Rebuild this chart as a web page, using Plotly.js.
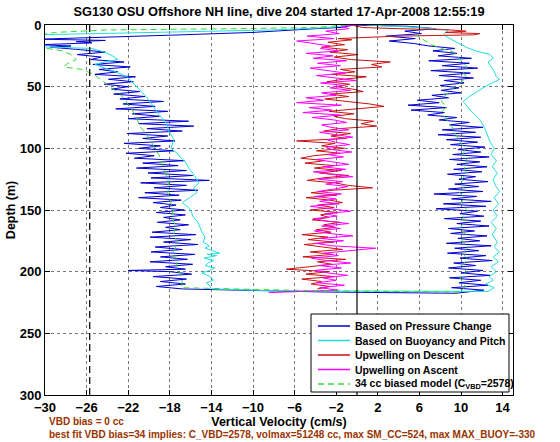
<!DOCTYPE html>
<html>
<head>
<meta charset="utf-8">
<script src="https://cdn.plot.ly/plotly-3.0.1.min.js"></script>
<style>html,body{margin:0;padding:0;background:#fff}#chart{width:560px;height:442px}</style>
</head>
<body>
<div id="chart"></div>
<script>
// ---------- data ----------
const titleText = "SG130 OSU Offshore NH line, dive 204 started 17-Apr-2008 12:55:19";
const xTicks = [-30,-26,-22,-18,-14,-10,-6,-2,2,6,10,14];
const yTicks = [0,50,100,150,200,250,300];
const seriesNames = ["Based on Pressure Change","Based on Buoyancy and Pitch","Upwelling on Descent","Upwelling on Ascent","34 cc biased model (C<sub>VBD</sub>=2578)"];
const biasLineX = -25.7;
const zeroLineX = 0;
const refDepth = [0, 300];

// Based on Pressure Change: descent
const pressDownDepth = [0,2,3,4.5,6,8,10,11.5,12.5,13.5,14.5,16,17,18,
20,22,24,26,28,30,32,34,36,38,40,42,44,46,48,50,52,54,56,58,60,62,64,66,68,70,72,74,76,78,80,82,84,86,88,90,92,94,96,98,100,
102,104,106,108,110,112,114,116,118,120,122,124,126,128,130,132,134,136,138,140,142,144,146,148,150,152,154,156,158,160,162,164,166,168,170,
172,174,176,178,180,182,184,186,188,190,192,194,196,198,199,200,202,204,206,208,210,212,214,215.5,216.5];
const pressDownVel = [-0.3,-1.5,-4,-7.5,-10,-17,-24,-30.5,-24.2,-27,-25.5,-30.5,-27.5,-29.5,
-26.6,-24.2,-26.9,-24.6,-25.6,-22.4,-25.4,-21.8,-24.8,-23,-25.2,-21.3,-23.9,-21.5,-24.3,-22,-23.6,-20.9,-23.4,-20.4,-22.8,-18.6,-22.5,-19.4,-23.2,-18.2,-21.6,-19,-22,-16.2,-21,-15.7,-20.2,-16.8,-22.1,-18.2,-20.6,-17.5,-22.4,-18.9,-21,
-17.6,-22.2,-19.5,-21.4,-16.6,-20.6,-17.2,-21.2,-16.4,-20.1,-15.8,-19.8,-14.2,-20.8,-16.4,-19.5,-15.3,-20.4,-17.1,-21,-16.9,-19.6,-17.4,-18.9,-16.6,-19.3,-16.5,-18.6,-17,-19.2,-16.2,-18.4,-17,-19.7,-15.5,
-19.9,-16,-18.6,-15.3,-19.4,-16.8,-19.8,-15.6,-18.9,-16.3,-19.9,-15.8,-18.4,-16.5,-22,-18,-15.9,-19.6,-16.4,-18.9,-16.5,-19.3,-16.8,-10,-3];
// Based on Pressure Change: ascent
const pressUpDepth = [217.5,215,213,211,209,207,205,203,201,199,197,195,193,191,189,187,185,183,181,179,177,175,173,171,169,167,165,163,161,159,157,155,153,151,149,147,145,143,141,139,137,135,133,131,129,127,125,123,121,119,117,115,113,111,109,107,105,103,101,99,97,95,93,91,89,87,85,83,81,79,77,75,73,71,69,67,65,63,61,59,57,55,53,51,49,47,45,43,41,39,37,35,33,31,29,27,25,23,21,19,17,15,13,11,9,7,5,3,1,0];
const pressUpVel = [9.5,12.2,9.1,12.6,9.8,11.9,8.9,12.8,10,12.1,8.8,11.4,9.3,13,9.9,12.4,8.7,11.7,9.4,12.9,8.6,11.8,9.7,12.5,9,11.3,8.8,12.7,9.6,11.9,8.4,12.2,9.9,11.6,7.6,12.4,8.3,12.9,9.1,11.5,7.4,12.1,8.8,11.7,9.4,12.6,9.8,11.4,8.7,12,9.3,12.5,9.6,11.8,8.9,12.7,9.2,11.9,9.7,12.3,9,11.6,8.6,11.9,7.8,11.4,8.2,12.1,8.9,10.8,7.9,9.6,6.8,8.4,5.2,8.6,4.9,7.9,5.8,8.8,7.2,10,8.1,9.8,8,10.3,8.4,11.2,7.9,10.9,7.1,11.6,8.2,10.8,6.9,11,7.8,9.6,7.3,9.4,6.9,5.5,3.1,5.6,2.8,6.2,4.6,7.6,4.8,-0.5];

// Based on Buoyancy and Pitch
const buoyDownDepth = [0,2,4,5.5,7,8,16,17.5,19,22,25,28,30,32,35,38,42,46,50,55,60,66,72,80,86,93,100,104,108,111,116,120,124,128,132,136,140,144,148,152,155,160,164,168,172,176,179,181,183,185,186,187,189,191,193,195,197,199,201,204,207,209,211,214,215.5];
const buoyDownVel = [-0.8,-2.5,-8,-16,-24,-31,-31,-31,-25.5,-24.3,-23.5,-23,-24.3,-25.2,-24.2,-23.2,-22.1,-21.6,-21.2,-20.6,-20.1,-19.6,-19.1,-18.3,-18.1,-17.6,-17.9,-17.3,-16.9,-16.5,-16.2,-15.8,-15.5,-15.2,-15.7,-15.4,-16.1,-16.8,-16.2,-15.9,-15.8,-15.3,-15.1,-14.9,-14.6,-14.8,-14.2,-14.6,-13.9,-13.2,-14.4,-13.5,-14.7,-13.8,-14.3,-14.6,-13.7,-14.2,-14.9,-14.1,-13.8,-14.5,-14.2,-14,-8];
const buoyUpDepth = [216,213,210,207,204,200,196,192,188,184,180,176,170,165,160,155,150,145,140,135,130,125,120,115,110,105,100,95,90,84,78,74,70,66,62,58,54,50,47,44,42,38,34,30,27,24,21,18,15,12,8,4,2,0];
const buoyUpVel = [12.6,13.2,12.4,13.1,12.7,13.4,12.9,13.6,13.1,13.7,13.2,13.5,13,13.4,12.9,13.5,13.1,13.6,13.2,13.7,13.3,13.1,13.5,13,13.4,12.9,13.2,12.8,12.6,12.3,11.9,11.5,11,10.6,10.2,10.8,11.5,12.3,13,13.7,13.4,13.2,12.9,12.6,13.1,12.8,11.4,10.5,9.8,9.1,8.3,8.8,6,1];

// Upwelling on Descent
const upDescDepth = [0,2,3,4,5,6,7,8,9,10,11,12,14,16,18,20,22,24,26,28,30,32,34,36,38,40,42,44,46,48,50,52,54,56,58,60,62,64,66,68,70,72,74,76,78,80,82,84,86,88,90,92,94,96,98,100,102,104,106,108,110,112,114,116,118,120,122,124,126,128,130,132,134,136,138,140,142,144,146,148,150,152,154,156,158,160,162,164,166,168,170,172,174,176,178,180,182,184,186,188,190,192,194,196,198,200,202,204,206,208,210,212,214];
const upDescVel = [-0.5,0.5,4,9,10.5,8.5,11.8,11.2,4,0.5,-1.8,-0.5,-2.8,-1.2,-3.4,-0.9,-2.6,0.1,-2.2,-0.6,3.2,1.4,2.4,-1.6,-0.2,-2.4,0.9,-1.3,-2.9,-0.7,-2,-0.4,0.6,-2.6,-0.8,-3.1,-1,1.2,2.6,-0.5,-2.7,-0.3,-2.2,-1.1,1.6,0.4,1.9,-1.7,-3.2,-0.6,-2.5,-1,-5.8,-2.1,-3.4,-1.2,-3.9,-1.6,-4.2,-5.4,-3.1,-5,-2.2,-4.1,-1.5,-3.6,-0.8,-3.3,-4.8,-2.1,-0.9,1.5,-2.4,-4.4,-2,-4.9,-2.6,-1.4,-3.8,-2.2,-4.5,-1.8,-3.5,-2.7,-4.3,-1.6,-3.2,-2.1,-3.9,-2.5,-5.3,-2.8,-4.7,-2.2,-5.1,-3.3,-1.4,-4.5,-2.3,-5.2,-1.1,-3.8,-2.4,-4.6,-6.8,-2.7,-4.9,-2.2,-5.3,-3.4,-4.4,-2.6,-3.8];

// Upwelling on Ascent
const upAscDepth = [217,215,213,211,209,207,205,203,201,199,197,195,193,191,189,187,185,183,181,179,177,175,173,171,169,167,165,163,161,159,157,155,153,151,149,147,145,143,141,139,137,135,133,131,129,127,125,123,121,119,117,115,113,111,109,107,105,103,101,99,97,95,93,91,89,87,85,83,81,79,77,75,73,71,69,67,65,63,61,59,57,55,53,51,49,47,45,43,41,39,37,35,33,31,29,27,25,23,21,19,17,15,13,11,9,7,5,3,1,0];
const upAscVel = [-8.5,-1.8,-3.6,-1.2,-3.9,-2,-3.3,-0.9,-2.8,-4.1,-1.5,-3.7,-0.6,-2.9,-4.4,-1.8,-3.2,-0.7,1.8,-2.5,-4,-1.3,-3.5,-0.4,-2.7,-4.1,-1.6,-3.4,-0.8,-2.9,-4.2,-1.9,-3.1,-0.6,-2.4,-4.5,-1.7,-3.6,-2,-4.1,-1.5,-3.8,-2.2,-0.9,-3,-1.4,-3.7,-0.4,-2.6,-4.2,-1.1,-3.3,-0.8,-2.5,-3.9,-1.3,-2.8,-0.5,-2.4,-3,-0.7,-2.1,-2.9,-0.4,-1.9,-3.6,-0.8,-2.5,-3.4,-1,-2.2,-4.3,-1.6,-5.2,-2.4,-4.6,-1.5,-5.8,-3.2,-4.9,-2,-3.4,-0.6,-2.6,-1.2,-3.5,-0.1,-2.3,-3.9,-1.1,-2.7,-4.5,-1.6,-3.8,-1,-4.2,-2.3,-4.9,-1.8,-3.5,-2.6,-4.1,-5.8,-2.2,-4.8,-1.7,-3,-0.8,-1.5,0.2];

// 34 cc biased model
const modelDownDepth = [0,2,3,4,6,9,18,21,24,28,31,34,36,40,45,50,55,62,69,75,82,88,93,100,106,112,120,128,136,144,150,155,162,170,176,182,186,190,196,202,208,213,215.5];
const modelDownVel = [-1,-4,-12,-24,-29,-31.5,-30.5,-28.3,-27.5,-27,-27.8,-28.2,-26.5,-25.3,-24.5,-23.8,-22.9,-22.2,-21.6,-21.2,-20.9,-20.3,-19.9,-19.4,-19,-18.8,-18.4,-18.1,-18.2,-17.9,-17.7,-17.8,-17.5,-17.6,-17.3,-17.5,-17.9,-17.2,-17.4,-17,-16.8,-16.9,-4];
const modelUpDepth = [216.5,212,205,200,195,190,185,180,175,170,165,160,155,150,145,140,135,130,125,120,115,110,105,100,95,90,85,82,78,74,70,66,62,58,54,50,46,42,38,34,30,26,22,19,16,13,10,7,4,1];
const modelUpVel = [10,10.4,9.9,10.5,10.1,10.6,10.2,10.7,10.1,10.5,9.8,10.4,10.2,10.6,10,10.3,9.8,10.4,10.1,10.5,10.3,10.6,10.2,10.4,9.9,9.6,9.3,9.1,8.7,8.4,8.2,8.6,8.1,8.4,8.9,9.4,10.1,10.5,10.2,10.6,10.1,9.7,9.3,8.1,7.2,6.6,6,5.6,5.4,5.2];

const noteLine1 = "VBD bias = 0 cc";
const noteLine2 = "best fit VBD bias=34 implies: C_VBD=2578, volmax=51248 cc, max SM_CC=524, max MAX_BUOY=-330";

// ---------- styling ----------
const FONT = "'Liberation Sans', Arial, Helvetica, sans-serif";
const colors = ["#0000d0", "#22dddd", "#cc1111", "#ff00ff", "#33dd33"];
const dashes = ["solid","solid","solid","solid","6px,4px"];
const noteColor = "#993300";

const traces = [
  {x: pressDownVel.concat(pressUpVel), y: pressDownDepth.concat(pressUpDepth), name: seriesNames[0]},
  {x: buoyDownVel.concat(buoyUpVel), y: buoyDownDepth.concat(buoyUpDepth), name: seriesNames[1]},
  {x: upDescVel, y: upDescDepth, name: seriesNames[2]},
  {x: upAscVel, y: upAscDepth, name: seriesNames[3]},
  {x: modelDownVel.concat(modelUpVel), y: modelDownDepth.concat(modelUpDepth), name: seriesNames[4]}
].map((t, i) => Object.assign(t, {
  type: "scatter", mode: "lines", showlegend: false, hoverinfo: "skip",
  line: {color: colors[i], width: 1, dash: dashes[i]}
}));

traces.push({type:"scatter", mode:"lines", x:[biasLineX, biasLineX], y:refDepth, showlegend:false, hoverinfo:"skip",
  line:{color:"#000", width:1.2, dash:"7px,4px"}});
traces.push({type:"scatter", mode:"lines", x:[zeroLineX, zeroLineX], y:refDepth, showlegend:false, hoverinfo:"skip",
  line:{color:"#000", width:1.2}});

// plot area geometry (px) used to place the hand-built legend box
const M = {l:45, r:47, t:25, b:47};
const PW = 560 - M.l - M.r, PH = 442 - M.t - M.b;
const px2x = p => (p - M.l) / PW;
const px2y = p => (442 - M.b - p) / PH;

const shapes = [];
const annotations = [];
// legend box
shapes.push({type:"rect", xref:"paper", yref:"paper", x0:px2x(311), x1:px2x(509), y0:px2y(392), y1:px2y(314),
  line:{color:"#000", width:1}, fillcolor:"#fff", layer:"above"});
const legendRows = [326, 340.5, 355, 369.5, 384];
seriesNames.forEach((nm, i) => {
  shapes.push({type:"line", xref:"paper", yref:"paper", x0:px2x(318), x1:px2x(350), y0:px2y(legendRows[i]), y1:px2y(legendRows[i]),
    line:{color:colors[i], width:1.5, dash: i===4 ? "6px,4px" : "solid"}, layer:"above"});
  annotations.push({xref:"paper", yref:"paper", x:px2x(353), y:px2y(legendRows[i]), xanchor:"left", yanchor:"middle",
    text:nm, showarrow:false, font:{family:FONT, size:10.5, color:"#000", weight:"bold"}});
});
annotations.push({xref:"paper", yref:"paper", x:px2x(47), y:px2y(421), xanchor:"left", yanchor:"middle",
  text:noteLine1, showarrow:false, font:{family:FONT, size:10, color:noteColor, weight:"bold"}});
annotations.push({xref:"paper", yref:"paper", x:px2x(47), y:px2y(434), xanchor:"left", yanchor:"middle",
  text:noteLine2, showarrow:false, font:{family:FONT, size:10, color:noteColor, weight:"bold"}});

const axisCommon = {
  showline:true, linecolor:"#000", linewidth:1, mirror:"ticks",
  ticks:"inside", ticklen:5, tickcolor:"#000", tickwidth:1,
  showgrid:true, gridcolor:"#777", gridwidth:1, griddash:"dot",
  zeroline:false, fixedrange:true,
  tickfont:{family:FONT, size:13, color:"#000", weight:"bold"}
};

const layout = {
  width:560, height:442, margin:M,
  paper_bgcolor:"#fff", plot_bgcolor:"#fff",
  showlegend:false,
  title:{text:titleText, font:{family:FONT, size:12.8, color:"#000", weight:"bold"},
    xref:"paper", x:0.5, xanchor:"center", yref:"container", y:1-12/442, yanchor:"middle"},
  xaxis:Object.assign({}, axisCommon, {range:[-30,15], tickmode:"array", tickvals:xTicks,
    title:{text:"Vertical Velocity (cm/s)", font:{family:FONT, size:12.5, color:"#000", weight:"bold"}, standoff:0}}),
  yaxis:Object.assign({}, axisCommon, {range:[300,0], tickmode:"array", tickvals:yTicks,
    title:{text:"Depth (m)", font:{family:FONT, size:12.5, color:"#000", weight:"bold"}, standoff:1}}),
  shapes:shapes, annotations:annotations
};

Plotly.newPlot("chart", traces, layout, {staticPlot:true, displayModeBar:false});
</script>
</body>
</html>
